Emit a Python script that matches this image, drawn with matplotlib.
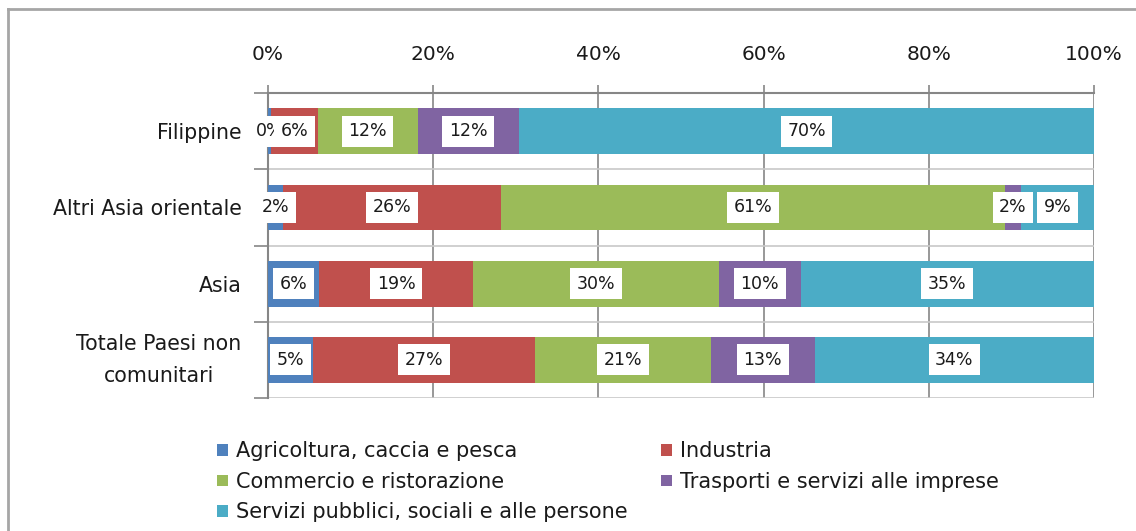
import matplotlib
matplotlib.use("Agg")
import matplotlib.pyplot as plt
from matplotlib.lines import Line2D
from matplotlib.patches import Patch
import numpy as np

plt.rcParams['font.family'] = ['DejaVu Sans']

categories = ["Filippine", "Altri Asia orientale", "Asia", "Totale Paesi non\ncomunitari"]
series_names = ["Agricoltura, caccia e pesca", "Industria", "Commercio e ristorazione",
                "Trasporti e servizi alle imprese", "Servizi pubblici, sociali e alle persone"]
agricoltura = [0.4, 1.8, 6.2, 5.4]
industria = [5.6, 26.4, 18.6, 26.9]
commercio = [12.1, 61.0, 29.8, 21.3]
trasporti = [12.3, 2.0, 9.9, 12.6]
servizi = [69.6, 8.8, 35.5, 33.8]
labels_agricoltura = ["0%", "2%", "6%", "5%"]
labels_industria = ["6%", "26%", "19%", "27%"]
labels_commercio = ["12%", "61%", "30%", "21%"]
labels_trasporti = ["12%", "2%", "10%", "13%"]
labels_servizi = ["70%", "9%", "35%", "34%"]
colors = ["#4F81BD", "#C0504D", "#9BBB59", "#8064A2", "#4BACC6"]
x_ticks = [0, 20, 40, 60, 80, 100]
x_ticklabels = ["0%", "20%", "40%", "60%", "80%", "100%"]

series = [agricoltura, industria, commercio, trasporti, servizi]
series_labels = [labels_agricoltura, labels_industria, labels_commercio, labels_trasporti, labels_servizi]

W, H = 1136, 531
fig = plt.figure(figsize=(W / 100, H / 100), dpi=100)
ax = fig.add_axes([268 / W, 1 - 398 / H, (1094 - 268) / W, (398 - 93) / H])

y = np.arange(len(categories))
left = np.zeros(len(categories))
for vals, col, name in zip(series, colors, series_names):
    ax.barh(y, vals, left=left, height=0.6, color=col, label=name, zorder=3)
    left = left + np.array(vals)

left = np.zeros(len(categories))
for vals, labs in zip(series, series_labels):
    for i, (v, lab) in enumerate(zip(vals, labs)):
        ax.text(left[i] + v / 2, y[i], lab, ha='center', va='center', fontsize=12.5,
                color='#1a1a1a', zorder=5,
                bbox=dict(boxstyle='square,pad=0.38', facecolor='white', edgecolor='none'))
    left = left + np.array(vals)

ax.set_xlim(0, 100)
ax.set_ylim(3.5, -0.5)
ax.xaxis.tick_top()
ax.set_xticks(x_ticks)
ax.set_xticklabels(x_ticklabels, fontsize=14.5, color='#1a1a1a')
ax.tick_params(axis='x', which='major', length=6, width=1.2, color='#868686', pad=15)
ax.set_yticks(y)
ax.set_yticklabels(categories, fontsize=14.8, color='#1a1a1a')
for lab in ax.get_yticklabels():
    lab.set_multialignment('center')
    lab.set_linespacing(1.75)
    if "\n" in lab.get_text():
        lab.set_verticalalignment('center')
ax.tick_params(axis='y', which='major', length=0, pad=19)
ax.set_yticks([-0.5, 0.5, 1.5, 2.5, 3.5], minor=True)
ax.tick_params(axis='y', which='minor', length=10, width=1.2, color='#868686')

ax.grid(axis='x', which='major', color='#868686', linewidth=1.2, zorder=1)
ax.grid(axis='y', which='minor', color='#c8c8c8', linewidth=1.2, zorder=1)
for s in ['right', 'bottom']:
    ax.spines[s].set_visible(False)
for s in ['top', 'left']:
    ax.spines[s].set_color('#868686')
    ax.spines[s].set_linewidth(1.5)

handles = [Patch(facecolor=c, edgecolor='none') for c in colors]
order = [0, 2, 4, 1, 3]
leg = fig.legend([handles[i] for i in order], [series_names[i] for i in order],
                 ncol=2, loc='upper left', bbox_to_anchor=(207 / W, 1 - 431 / H),
                 frameon=False, fontsize=15, handlelength=0.5, handleheight=0.5,
                 handletextpad=0.4, labelspacing=0.5, columnspacing=1.6, borderpad=0)
for t in leg.get_texts():
    t.set_color('#1a1a1a')

fig.add_artist(Line2D([7.5 / W, 7.5 / W], [0, 1 - 8.5 / H], transform=fig.transFigure,
                      color='#a6a6a6', linewidth=2))
fig.add_artist(Line2D([7.5 / W, 1.0], [1 - 8.5 / H, 1 - 8.5 / H], transform=fig.transFigure,
                      color='#a6a6a6', linewidth=2))

fig.savefig("out.png", dpi=100, facecolor='white')
